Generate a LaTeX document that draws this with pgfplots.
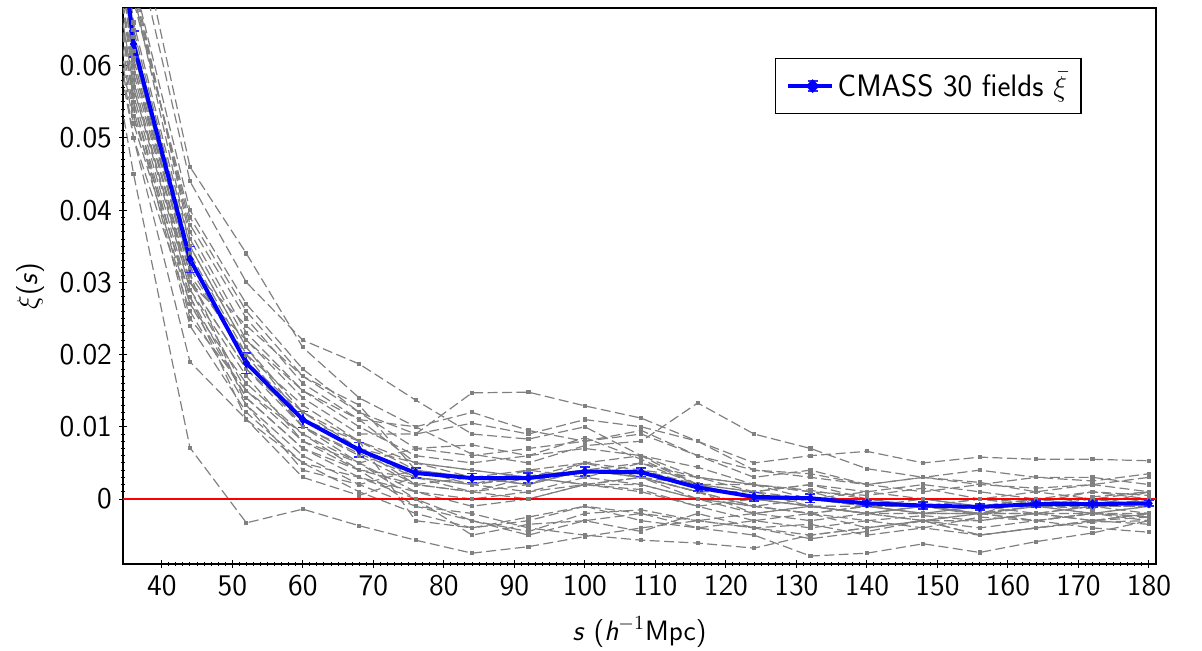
\documentclass[border=0pt]{standalone}
\usepackage{pgfplots}
\pgfplotsset{compat=1.18}
\renewcommand{\familydefault}{\sfdefault}
\definecolor{zeroRed}{RGB}{255,0,0}
\definecolor{meanBlue}{RGB}{0,0,255}
\definecolor{barBlue}{RGB}{40,40,255}
\pgfplotsset{grayline/.style={color=gray, line width=0.6pt, dash pattern=on 5pt off 2.2pt, mark=square*, mark size=0.75pt, mark options={solid}, forget plot}}
\begin{document}
\begin{tikzpicture}
\begin{axis}[name=ax, scale only axis, width=516.5pt, height=278pt,
 xmin=34.5, xmax=181, ymin=-9, ymax=68,
 xtick={40,50,...,180}, minor x tick num=9,
 ytick={0,10,...,60}, yticklabels={0,0.01,0.02,0.03,0.04,0.05,0.06}, minor y tick num=9,
 xtick pos=bottom, ytick pos=left, tick align=center,
 major tick length=4pt, minor tick length=2pt,
 tick style={black, line width=0.5pt},
 axis line style={line width=0.7pt},
 /pgf/number format/assume math mode=true,
 ticklabel style={font=\fontsize{15}{17}\selectfont},
 label style={font=\fontsize{14}{16}\selectfont},
 xlabel={\textit{s} (\textit{h}$^{-1}$Mpc)}, ylabel={$\xi$(\textit{s})},
 xlabel style={at={(axis description cs:0.5,-0.1223)}, anchor=center},
 ylabel style={at={(axis description cs:-0.09,0.5)}, anchor=center},
 legend style={at={(0.928,0.91)}, anchor=north east, draw=black, line width=0.6pt, font=\fontsize{15.5}{17}\selectfont, inner xsep=5pt, inner ysep=5pt, cells={anchor=west}},
 legend image code/.code={\path (-4pt,0pt) -- (18pt,0pt);
   \draw[meanBlue, line width=2pt] (1pt,0pt) -- (16pt,0pt);
   \draw[barBlue, line width=0.6pt] (8.5pt,-2.5pt) -- (8.5pt,2.5pt);
   \draw[barBlue, line width=0.6pt] (6pt,2.5pt) -- (11pt,2.5pt) (6pt,-2.5pt) -- (11pt,-2.5pt);
   \fill[meanBlue] (8.5pt,2pt) -- (10.5pt,0pt) -- (8.5pt,-2pt) -- (6.5pt,0pt) -- cycle;},
 clip=true]
\addplot[grayline] coordinates {(28,150) (36,82) (44,46) (52,34) (60,21) (68,14) (76,10) (84,6.2) (92,5) (100,7.4) (108,8) (116,13.3) (124,9) (132,7) (140,4.2) (148,3) (156,2.3) (164,1) (172,2) (180,3)};
\addplot[grayline] coordinates {(28,140) (36,78) (44,44) (52,30) (60,22) (68,18.7) (76,13.7) (84,9) (92,8.3) (100,10) (108,6) (116,4.4) (124,2) (132,1.2) (140,0) (148,-1) (156,-2.2) (164,-1) (172,0.3) (180,1)};
\addplot[grayline] coordinates {(28,135) (36,72) (44,40) (52,27) (60,18) (68,12) (76,9) (84,14.7) (92,14.8) (100,12.9) (108,11.2) (116,8) (124,5) (132,6) (140,6.6) (148,5) (156,5.8) (164,5.5) (172,5.5) (180,5.3)};
\addplot[grayline] coordinates {(28,120) (36,60) (44,30) (52,18) (60,10) (68,6.3) (76,3) (84,2) (92,3.2) (100,4) (108,3) (116,1) (124,-1) (132,-2) (140,-3) (148,-2.3) (156,-3) (164,-2) (172,-3) (180,-2)};
\addplot[grayline] coordinates {(28,110) (36,55) (44,25) (52,15) (60,8) (68,5) (76,1) (84,-1) (92,0) (100,2) (108,1.3) (116,-1) (124,-3) (132,-4) (140,-3) (148,-4) (156,-5) (164,-4) (172,-3.2) (180,-3)};
\addplot[grayline] coordinates {(28,100) (36,50) (44,19) (52,11) (60,5) (68,1) (76,-2) (84,-4) (92,-3) (100,-1) (108,-2) (116,-3) (124,-4) (132,-5) (140,-4) (148,-3) (156,-4) (164,-3) (172,-2) (180,-2.4)};
\addplot[grayline] coordinates {(28,90) (36,45) (44,7.1) (52,-3.3) (60,-1.4) (68,-3.7) (76,-5.7) (84,-7.5) (92,-6.6) (100,-5.2) (108,-4) (116,-3) (124,-2) (132,-3) (140,-2) (148,-1) (156,-2) (164,-1) (172,-1.3) (180,0)};
\addplot[grayline] coordinates {(28,130) (36,72) (44,36) (52,22) (60,14) (68,9) (76,9) (84,10.5) (92,9) (100,11) (108,10) (116,8) (124,4) (132,3.5) (140,2) (148,3) (156,2) (164,1.5) (172,2) (180,1)};
\addplot[grayline] coordinates {(28,125) (36,70) (44,35) (52,21) (60,12) (68,8) (76,-3) (84,-4) (92,-2.5) (100,-1) (108,-3) (116,-4) (124,-3) (132,-2) (140,-4) (148,-3) (156,-5) (164,-4) (172,-3) (180,-2.5)};
\addplot[grayline] coordinates {(28,118) (36,64) (44,33) (52,19) (60,11) (68,7) (76,3) (84,2) (92,4) (100,3) (108,5) (116,2) (124,1) (132,-1) (140,-2) (148,-1) (156,-2) (164,-2) (172,-1) (180,-1)};
\addplot[grayline] coordinates {(28,115) (36,62) (44,32) (52,24) (60,17) (68,13) (76,4) (84,3) (92,2) (100,4) (108,3) (116,0) (124,-1) (132,0) (140,-1) (148,-2) (156,-1) (164,0) (172,-1) (180,-2)};
\addplot[grayline] coordinates {(28,112) (36,61) (44,31) (52,20) (60,10) (68,5) (76,7) (84,7.5) (92,6) (100,8.5) (108,5.5) (116,2) (124,2) (132,1) (140,0.5) (148,1.5) (156,0) (164,-0.5) (172,1) (180,0.5)};
\addplot[grayline] coordinates {(28,108) (36,59) (44,30) (52,22) (60,15) (68,11) (76,5) (84,4) (92,3) (100,2) (108,3) (116,2) (124,0) (132,-1) (140,-2) (148,-3) (156,-2) (164,-1) (172,0) (180,-1)};
\addplot[grayline] coordinates {(28,105) (36,57) (44,29) (52,17) (60,8) (68,4) (76,2) (84,1) (92,2) (100,5) (108,4) (116,3) (124,1) (132,2) (140,1) (148,0) (156,-1) (164,0) (172,1) (180,0)};
\addplot[grayline] coordinates {(28,100) (36,56) (44,28) (52,14) (60,7) (68,3) (76,1) (84,0) (92,1) (100,3) (108,2) (116,0) (124,-2) (132,-1) (140,-2) (148,-3) (156,-3) (164,-2) (172,-2) (180,-3)};
\addplot[grayline] coordinates {(28,128) (36,70) (44,38) (52,25) (60,16) (68,11) (76,10) (84,12) (92,9.5) (100,8) (108,9.5) (116,6) (124,3) (132,4) (140,2) (148,3) (156,4) (164,3) (172,2.5) (180,3.5)};
\addplot[grayline] coordinates {(28,122) (36,71) (44,37) (52,23) (60,15) (68,10) (76,6) (84,5) (92,6) (100,7) (108,6) (116,3) (124,2) (132,0) (140,1) (148,2) (156,1) (164,0) (172,-1) (180,1)};
\addplot[grayline] coordinates {(28,116) (36,65) (44,34) (52,20) (60,13) (68,8) (76,4) (84,2) (92,3) (100,5) (108,6) (116,2) (124,1) (132,2) (140,0) (148,-1) (156,0) (164,1) (172,0) (180,-1)};
\addplot[grayline] coordinates {(28,95) (36,52) (44,27) (52,16) (60,9) (68,5) (76,0) (84,-5) (92,-3.5) (100,-3) (108,-4.5) (116,-2) (124,-4) (132,-5.5) (140,-4.5) (148,-3) (156,-5) (164,-4) (172,-3) (180,-3.5)};
\addplot[grayline] coordinates {(28,92) (36,50) (44,26) (52,13) (60,6) (68,2) (76,-1) (84,-2) (92,-4) (100,-5) (108,-5.7) (116,-6.1) (124,-6.8) (132,-5) (140,-4) (148,-3) (156,-2) (164,-3) (172,-4) (180,-4.6)};
\addplot[grayline] coordinates {(28,98) (36,54) (44,24) (52,12) (60,5) (68,3) (76,0) (84,-3) (92,-5) (100,-3) (108,-2) (116,-4) (124,-5) (132,-7.9) (140,-7.5) (148,-6.2) (156,-7.4) (164,-5.9) (172,-4.7) (180,-3)};
\addplot[grayline] coordinates {(28,132) (36,69) (44,39) (52,26) (60,17) (68,12) (76,7) (84,6) (92,7) (100,8) (108,9) (116,6) (124,4) (132,3) (140,2) (148,1) (156,2) (164,3) (172,3) (180,2)};
\addplot[grayline] coordinates {(28,110) (36,58) (44,29) (52,15) (60,9) (68,4) (76,3) (84,1) (92,0) (100,2) (108,1) (116,-1) (124,0) (132,-1) (140,-1) (148,-2) (156,-2) (164,-1) (172,-1) (180,0)};
\addplot[grayline] coordinates {(28,104) (36,57) (44,30) (52,18) (60,11) (68,8) (76,5) (84,4) (92,3) (100,4) (108,5) (116,3) (124,2) (132,1) (140,-1) (148,-1) (156,0) (164,-1) (172,-2) (180,-1)};
\addplot[grayline] coordinates {(28,126) (36,66) (44,35) (52,21) (60,11) (68,7) (76,5) (84,3) (92,2) (100,4) (108,4) (116,2) (124,0) (132,-1) (140,-2) (148,-2) (156,-2) (164,-2) (172,-1) (180,-1)};
\addplot[grayline] coordinates {(28,106) (36,60) (44,32) (52,19) (60,10) (68,6) (76,2) (84,1) (92,3) (100,2) (108,2) (116,0) (124,-1) (132,-2) (140,-1) (148,0) (156,-1) (164,-2) (172,-3) (180,-2)};
\addplot[grayline] coordinates {(28,102) (36,55) (44,27) (52,14) (60,7) (68,4) (76,-1) (84,-3) (92,-4.5) (100,-2) (108,-1.5) (116,-3) (124,-4) (132,-3.5) (140,-5) (148,-4) (156,-2.5) (164,-3) (172,-2) (180,-2.5)};
\addplot[grayline] coordinates {(28,118) (36,63) (44,33) (52,19) (60,12) (68,7) (76,2) (84,3) (92,4) (100,5) (108,3) (116,1) (124,1) (132,0) (140,-1) (148,-1) (156,-2) (164,0) (172,0) (180,1)};
\addplot[grayline] coordinates {(28,96) (36,53) (44,28) (52,11) (60,3) (68,0.5) (76,3) (84,2) (92,1) (100,2) (108,3) (116,1) (124,-2) (132,-1) (140,-2) (148,-1) (156,-2) (164,-3) (172,-2) (180,-1)};
\addplot[grayline] coordinates {(28,114) (36,62) (44,31) (52,13) (60,4) (68,2) (76,4) (84,3) (92,2) (100,4) (108,3) (116,1) (124,-1) (132,-2) (140,-1) (148,-2) (156,-1) (164,-1) (172,-2) (180,-2)};
\addplot[color=zeroRed, line width=0.7pt, forget plot] coordinates {(28,0) (184,0)};
\addplot[color=meanBlue, line width=2pt, mark=diamond*, mark size=2.2pt, mark options={solid, line width=0.4pt, color=meanBlue},
  error bars/.cd, y dir=both, y explicit,
  error bar style={line width=0.75pt, color=barBlue},
  error mark options={rotate=90, mark size=2.5pt, line width=0.75pt, color=barBlue}]
 table[x=x, y=y, y error=e] {
x y e
28 130 3
36 63 1.8
44 33.2 1.8
52 18.8 1.4
60 11.0 1.1
68 6.8 1.0
76 3.6 0.7
84 2.9 0.6
92 2.9 0.7
100 3.8 0.6
108 3.7 0.6
116 1.6 0.5
124 0.3 0.6
132 0.1 0.6
140 -0.6 0.4
148 -0.9 0.5
156 -1.1 0.4
164 -0.7 0.4
172 -0.7 0.4
180 -0.6 0.4
};
\addlegendentry{CMASS 30 fields $\bar{\xi}$}
\end{axis}
\pgfresetboundingbox
\path[use as bounding box] ([xshift=-61.5pt,yshift=-43pt]ax.south west) rectangle ([xshift=23pt,yshift=4pt]ax.north east);
\end{tikzpicture}
\end{document}
